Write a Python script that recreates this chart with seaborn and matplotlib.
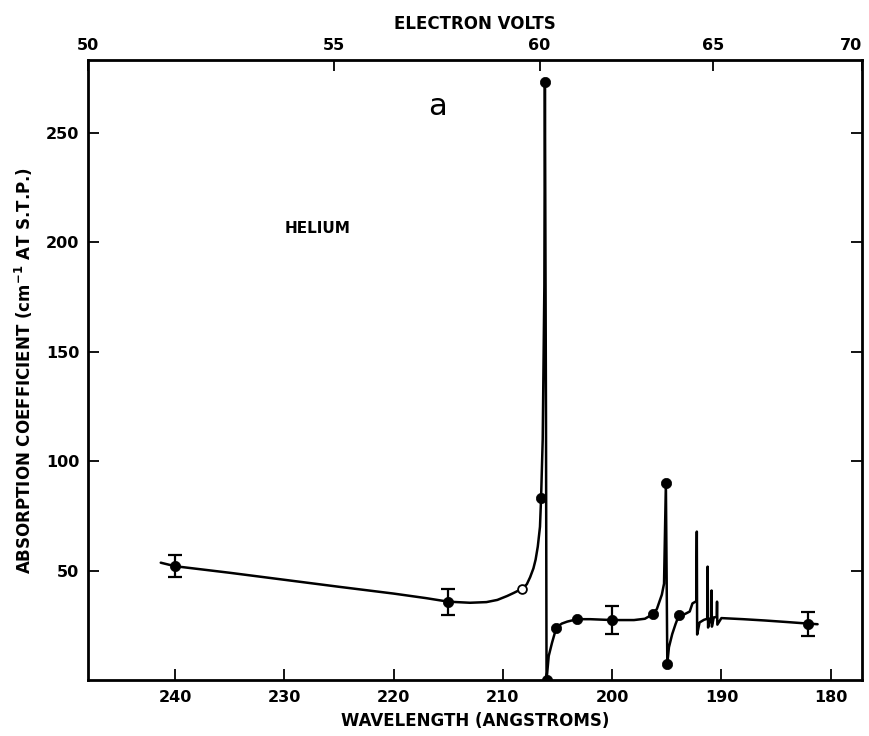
import matplotlib
matplotlib.use("Agg")
import matplotlib.pyplot as plt
import seaborn as sns
import pandas as pd

# ---- data ----
curve_wl = [241.3, 240.0, 235.0, 230.0, 225.0, 220.0, 217.0, 215.0, 213.0, 211.5,
            210.5, 209.6, 209.0, 208.2, 207.8, 207.5, 207.2, 207.0, 206.8, 206.6,
            206.5, 206.35, 206.2, 206.15, 206.05,
            206.0, 205.8, 205.5, 205.1, 204.6, 204.1, 203.2, 202.0, 200.0, 198.0,
            197.0, 196.3, 195.9, 195.7, 195.45, 195.25, 195.08, 195.0, 194.95,
            194.8, 194.5, 194.2, 193.9, 193.4, 192.9, 192.65, 192.3, 192.25,
            192.22, 192.0, 191.6, 191.3, 191.26, 191.22, 191.0, 190.93, 190.9,
            190.87, 190.7, 190.43, 190.4, 190.37, 190.0, 188.0, 186.0, 184.0,
            182.1, 181.2]
curve_abs = [53.6, 52.0, 49.0, 45.8, 42.6, 39.5, 37.4, 35.8, 35.3, 35.6,
             36.6, 38.4, 39.8, 41.8, 43.8, 47.0, 51.0, 55.0, 61.0, 70.0,
             83.0, 110.0, 180.0, 273.0, 120.0,
             0.0, 11.0, 17.0, 24.0, 25.8, 26.7, 27.8, 27.8, 27.4, 27.4,
             28.0, 30.0, 32.5, 35.4, 39.0, 44.0, 90.0, 40.0, 7.5,
             15.0, 21.0, 25.5, 29.5, 30.0, 31.3, 35.0, 36.0, 67.8,
             20.8, 26.3, 27.5, 28.0, 51.8, 24.0, 28.2, 28.6, 40.9,
             24.4, 28.6, 28.8, 35.8, 25.3, 28.3, 27.8, 27.2, 26.5,
             25.8, 25.5]

dot_wl = [240.0, 215.0, 206.5, 206.15, 206.0, 205.1, 203.2, 200.0, 196.3,
          195.08, 194.95, 193.9, 182.1]
dot_abs = [52.0, 35.8, 83.0, 273.0, 0.0, 24.0, 27.8, 27.4, 30.0,
           90.0, 7.5, 29.5, 25.8]

open_wl = [208.2]
open_abs = [41.8]

err_wl = [240.0, 215.0, 200.0, 182.1]
err_abs = [52.0, 35.8, 27.4, 25.8]
err_size = [5.0, 6.0, 6.5, 5.5]

bottom_ticks = [240, 230, 220, 210, 200, 190, 180]
left_ticks = [50, 100, 150, 200, 250]
top_ticks = [50, 55, 60, 65, 70]

HC = 12398.4  # eV * Angstrom

sns.set_style("ticks")
plt.rcParams["font.family"] = ["DejaVu Sans"]
for k in ["text.color", "axes.labelcolor", "xtick.color", "ytick.color"]:
    plt.rcParams[k] = "black"

fig = plt.figure(figsize=(8.7, 7.36), dpi=100)
ax = fig.add_axes([0.101, 0.076, 0.890, 0.842])

curve = pd.DataFrame({"wl": curve_wl, "abs": curve_abs})
sns.lineplot(data=curve, x="wl", y="abs", sort=False, color="black",
             linewidth=1.8, ax=ax, estimator=None)

dots = pd.DataFrame({"wl": dot_wl, "abs": dot_abs})
sns.scatterplot(data=dots, x="wl", y="abs", color="black", s=55,
                edgecolor="black", linewidth=0.5, ax=ax, zorder=5)
opn = pd.DataFrame({"wl": open_wl, "abs": open_abs})
sns.scatterplot(data=opn, x="wl", y="abs", color="white", s=40,
                edgecolor="black", linewidth=1.3, ax=ax, zorder=5)

ax.errorbar(err_wl, err_abs, yerr=err_size, fmt="none", ecolor="black",
            elinewidth=1.6, capsize=5, capthick=1.6, zorder=4)

ax.set_xlim(HC / 50, HC / 70)
ax.set_ylim(0, 283)
ax.set_xticks(bottom_ticks)
ax.set_yticks(left_ticks)
ax.tick_params(axis="x", direction="in", length=8, width=1.3,
               labelsize=11.5, top=False, pad=7)
ax.tick_params(axis="y", direction="in", length=8, width=1.3,
               labelsize=11.5, right=True, pad=6)
for s in ax.spines.values():
    s.set_visible(True)
    s.set_linewidth(2.0)
    s.set_color("black")

ax.set_xlabel("WAVELENGTH (ANGSTROMS)", fontsize=12, fontweight="bold",
              labelpad=5)
ax.set_ylabel(r"ABSORPTION COEFFICIENT (cm$^{\mathbf{-1}}$ AT S.T.P.)",
              fontsize=12, fontweight="bold", labelpad=8)

sec = ax.secondary_xaxis("top", functions=(lambda l: HC / l, lambda e: HC / e))
sec.set_xticks(top_ticks)
sec.tick_params(direction="in", length=8, width=1.3, labelsize=11.5, pad=5)
sec.set_xlabel("ELECTRON VOLTS", fontsize=12, fontweight="bold", labelpad=7)
fig.canvas.draw()
for lab in ax.get_xticklabels() + ax.get_yticklabels() + sec.get_xticklabels():
    lab.set_fontweight("bold")
for lab in sec.get_xticklabels():
    if lab.get_text() in ("70",):
        lab.set_horizontalalignment("right")

ax.text(0.452, 0.925, "a", transform=ax.transAxes, fontsize=22,
        ha="center", va="center")
ax.text(0.296, 0.728, "HELIUM", transform=ax.transAxes, fontsize=11,
        fontweight="bold", ha="center", va="center")

fig.savefig("out.png", dpi=100)
